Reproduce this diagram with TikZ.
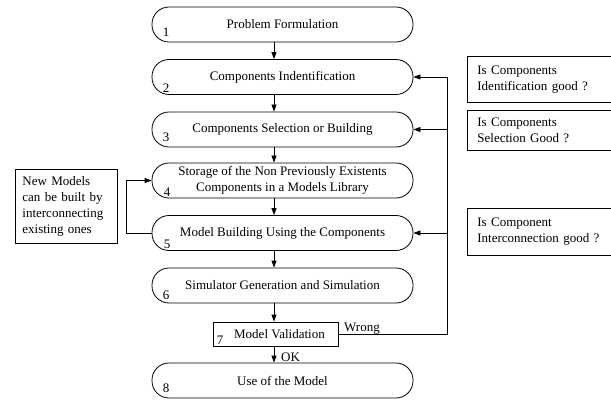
\documentclass[tikz,border=0pt]{standalone}
\usepackage{fontspec}
\setmainfont{Liberation Serif}
\usetikzlibrary{arrows.meta}
\begin{document}
\begin{tikzpicture}[x=1pt,y=-1pt,
  every node/.style={font=\fontsize{13}{16}\selectfont},
  stadium/.style={draw, line width=0.8pt, rounded corners=17pt, minimum width=261pt, minimum height=35pt, inner sep=0pt, align=center},
  vbox/.style={draw, line width=0.8pt, minimum width=125pt, minimum height=24pt, inner sep=0pt},
  num/.style={inner sep=0pt},
  plain/.style={line width=0.8pt},
  arr/.style={-{Triangle[length=7pt,width=5pt]}, line width=0.8pt},
  rnote/.style={draw, line width=0.8pt, anchor=north west, align=left, minimum width=160pt, text width=140pt},
  lnote/.style={draw, line width=0.8pt, anchor=north west, align=left, minimum width=101pt, minimum height=74pt, text width=88pt, inner xsep=7pt, font=\fontsize{13}{16.3}\selectfont},
]
\useasboundingbox (0,0) rectangle (611,401);

% main boxes
\node[stadium] (b1) at (282.5,24.5) {Problem Formulation};
\node[stadium] (b2) at (282.5,77) {Components Indentification};
\node[stadium] (b3) at (282.5,129.5) {Components Selection or Building};
\node[stadium] (b4) at (282.5,180.5) {Storage of the Non Previously Existents\\Components in a Models Library};
\node[stadium] (b5) at (282.5,233) {Model Building Using the Components};
\node[stadium] (b6) at (282.5,285.5) {Simulator Generation and Simulation};
\node[vbox] (mv) at (275.5,334) {\hspace{8pt}Model Validation};
\node[stadium] (b8) at (282.5,380.5) {Use of the Model};

% step numbers
\node[num] (n1) at (166,32) {1};
\node[num] (n2) at (166,88) {2};
\node[num] (n3) at (166,137) {3};
\node[num] (n4) at (167,192) {4};
\node[num] (n5) at (167,244) {5};
\node[num] (n6) at (166,295) {6};
\node[num] (n7) at (220,340) {7};
\node[num] (n8) at (166,388) {8};

% main flow
\coordinate (ax) at (274,0);
\draw[arr] (ax |- b1.south) -- (ax |- b2.north);
\draw[arr] (ax |- b2.south) -- (ax |- b3.north);
\draw[arr] (ax |- b3.south) -- (ax |- b4.north);
\draw[arr] (ax |- b4.south) -- (ax |- b5.north);
\draw[arr] (ax |- b5.south) -- (ax |- b6.north);
\draw[arr] (ax |- b6.south) -- (ax |- mv.north);
\draw[arr] (ax |- mv.south) -- (ax |- b8.north);
\node[anchor=base west, inner sep=0pt] (ok) at (281,361) {OK};

% feedback loop (Wrong)
\coordinate (rx) at (447,0);
\draw[plain] (mv.east) -| (rx |- b2.east);
\draw[arr] (rx |- b2.east) -- (b2.east);
\draw[arr] (rx |- b3.east) -- (b3.east);
\draw[arr] (rx |- b5.east) -- (b5.east);
\node[anchor=base west, inner sep=0pt] (wrong) at (344,331) {Wrong};

% left loop
\coordinate (lx) at (126,0);
\draw[plain] (b5.west) -| (lx |- b4.west);
\draw[arr] (lx |- b4.west) -- (b4.west);

% notes
\node[lnote] (nl) at (15,169) {New Models\\can be built by\\interconnecting\\existing ones};
\node[rnote, minimum height=46pt, inner xsep=6pt] (qa) at (467,56) {Is Components\\Identification good ?};
\node[rnote, minimum height=39.5pt, inner xsep=2pt] (qb) at (467,110.5) {Is Components\\Selection Good ?};
\node[rnote, minimum height=47pt, inner xsep=8pt] (qc) at (467,208) {Is Component\\Interconnection good ?};
\end{tikzpicture}
\end{document}
